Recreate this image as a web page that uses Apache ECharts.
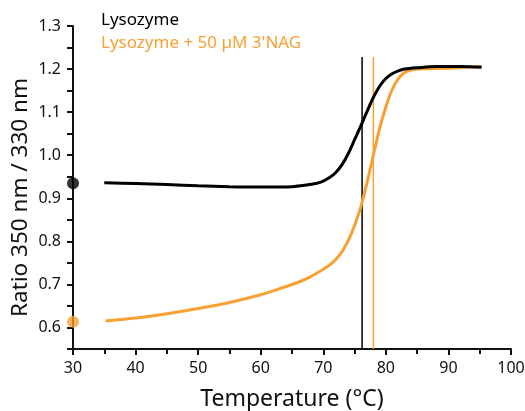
<!DOCTYPE html>
<html>
<head>
<meta charset="utf-8">
<script src="https://cdn.jsdelivr.net/npm/echarts@6/dist/echarts.min.js"></script>
<style>
  html, body { margin: 0; padding: 0; background: #fff; }
  #chart { width: 525px; height: 411px; }
</style>
</head>
<body>
<div id="chart"></div>
<script>
// temperature (°C) and ratio values
const lysoTemp = [35.0, 40, 45, 50, 55, 60, 65, 67, 69, 70, 71, 72, 73, 74, 75, 76, 77, 78, 79, 80, 81, 82, 83, 85, 88, 92, 95.3]
const lysoRatio = [0.936, 0.934, 0.932, 0.929, 0.927, 0.926, 0.927, 0.930, 0.935, 0.940, 0.948, 0.960, 0.978, 1.004, 1.036, 1.068, 1.102, 1.134, 1.160, 1.178, 1.189, 1.196, 1.200, 1.203, 1.206, 1.206, 1.204]

const nagTemp = [35.2, 40, 45, 50, 55, 60, 63, 66, 68, 70, 71, 72, 73, 74, 75, 76, 77, 78, 79, 80, 81, 82, 83, 84, 86, 90, 95.3]
const nagRatio = [0.615, 0.622, 0.632, 0.644, 0.658, 0.676, 0.690, 0.705, 0.718, 0.735, 0.745, 0.758, 0.776, 0.802, 0.837, 0.880, 0.937, 1.000, 1.062, 1.112, 1.152, 1.178, 1.192, 1.198, 1.201, 1.202, 1.206]

// melting temperatures (vertical lines) and the value at 30 °C (dots)
const tmValues = [76.2, 78.0]
const startRatio = [0.935, 0.613]

const names = ['Lysozyme', "Lysozyme + 50 µM 3'NAG"]
const colors = ['#000000', '#F7A033']
const font = 'Noto Sans'

const yMin = 0.55
const yMax = 1.3
const tmLineTop = 1.228

const pairs = (xs, ys) => xs.map((x, i) => [x, ys[i]])

let myChart = echarts.init(document.getElementById('chart'))

let series = [
	{
		name: names[0],
		type: 'line',
		data: pairs(lysoTemp, lysoRatio),
		smooth: 0.3,
		showSymbol: false,
		lineStyle: { color: colors[0], width: 3 },
		z: 3
	},
	{
		name: names[1],
		type: 'line',
		data: pairs(nagTemp, nagRatio),
		smooth: 0.3,
		showSymbol: false,
		lineStyle: { color: colors[1], width: 3 },
		z: 2
	}
]

tmValues.forEach((tm, i) => {
	series.push({
		type: 'line',
		data: [[tm, yMin], [tm, tmLineTop]],
		showSymbol: false,
		lineStyle: { color: colors[i], width: 1.5 },
		z: 1
	})
})

series.push({
	type: 'scatter',
	data: startRatio.map((v, i) => ({ value: [30, v], itemStyle: { color: colors[i] } })),
	symbolSize: 12,
	clip: false,
	z: 5
})

myChart.setOption({
	animation: false,
	textStyle: { fontFamily: font },
	grid: {
		left: 73,
		right: 14,
		top: 26,
		bottom: 62,
		outerBoundsMode: 'none'
	},
	xAxis: {
		type: 'value',
		min: 30,
		max: 100,
		interval: 10,
		name: 'Temperature (°C)',
		nameLocation: 'middle',
		nameGap: 39,
		nameTextStyle: { fontSize: 23, color: '#111', fontFamily: font },
		axisLine: { lineStyle: { color: '#111', width: 2 } },
		axisTick: { length: 6, lineStyle: { color: '#111', width: 2 } },
		minorTick: { show: true, splitNumber: 2, length: 5, lineStyle: { color: '#111', width: 2 } },
		axisLabel: { fontSize: 16, color: '#111', margin: 11, fontFamily: font },
		splitLine: { show: false }
	},
	yAxis: {
		type: 'value',
		min: yMin,
		max: yMax,
		interval: 0.05,
		name: 'Ratio 350 nm / 330 nm',
		nameLocation: 'middle',
		nameGap: 41,
		nameMoveOverlap: false,
		nameTextStyle: { fontSize: 22.5, color: '#111', fontFamily: font, padding: [0, 0, 0, -20] },
		axisLine: { show: true, lineStyle: { color: '#111', width: 2 } },
		axisTick: { length: 6, lineStyle: { color: '#111', width: 2 } },
		axisLabel: {
			fontSize: 16,
			color: '#111',
			margin: 12,
			fontFamily: font,
			formatter: v => Math.round(v * 20) % 2 === 0 ? v.toFixed(1) : ''
		},
		splitLine: { show: false }
	},
	graphic: names.map((n, i) => ({
		type: 'text',
		left: 101,
		top: 12 + i * 23,
		style: { text: n, fill: colors[i], font: '17px "' + font + '"' }
	})),
	series: series
})
</script>
</body>
</html>
